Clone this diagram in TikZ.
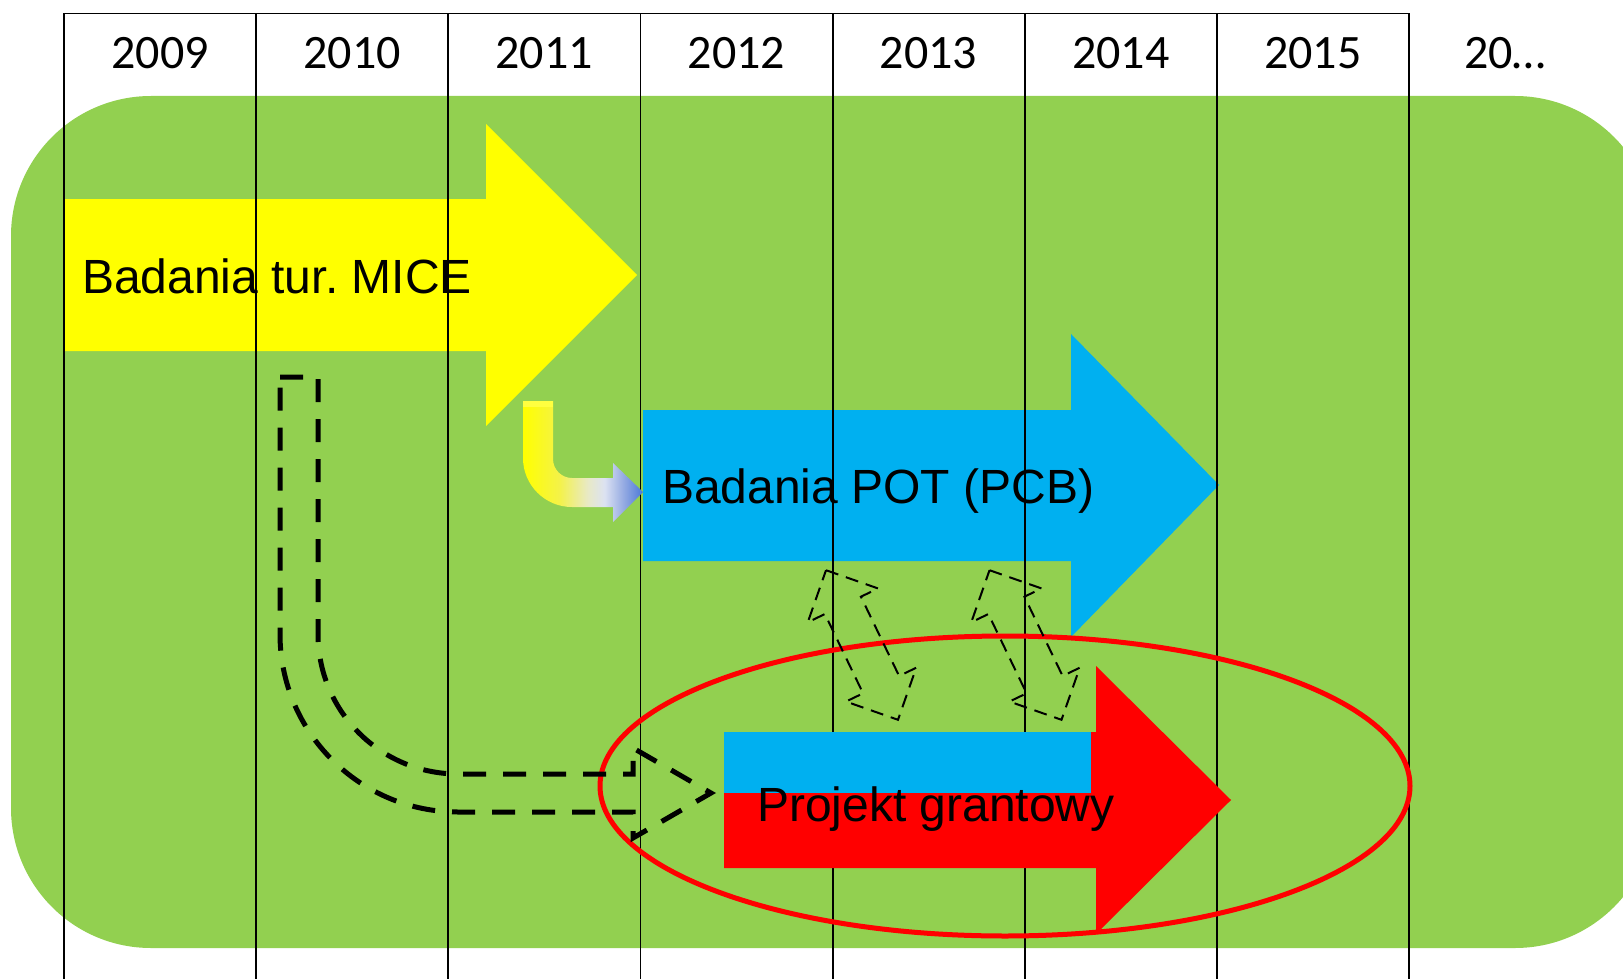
\documentclass[tikz,border=0pt]{standalone}
\usepackage{fontspec}
\setmainfont{Liberation Sans}
\newfontfamily\yearfont{Carlito}
\frenchspacing

\definecolor{tlgreen}{HTML}{92D050}
\definecolor{tlyellow}{HTML}{FFFF00}
\definecolor{tlblue}{HTML}{00B0F0}
\definecolor{tlred}{HTML}{FF0000}
\definecolor{bendA}{HTML}{F4F248}
\definecolor{bendB}{HTML}{E8E9C6}
\definecolor{bendC}{HTML}{DCE2F2}
\definecolor{bendD}{HTML}{94AAE2}
\definecolor{bendE}{HTML}{4A78D8}
\pgfdeclarehorizontalshading{bendgrad}{100bp}{color(0bp)=(tlyellow); color(25bp)=(tlyellow);
  color(40bp)=(bendA); color(52bp)=(bendB); color(59bp)=(bendC); color(67bp)=(bendD);
  color(75bp)=(bendE); color(100bp)=(bendE)}

\begin{document}
\begin{tikzpicture}[x=1pt, y=-1pt,
    gridline/.style={black, line width=1.8pt},
    yearlbl/.style={font=\yearfont\fontsize{48}{56}\selectfont, inner sep=0pt, anchor=base},
    barlbl/.style={font=\fontsize{48}{56}\selectfont, inner sep=0pt, anchor=base west},
    uturn/.style={black, line width=5pt, dash pattern=on 23pt off 17pt},
    dblarr/.style={black, line width=2pt, dash pattern=on 13pt off 8pt}]
    \useasboundingbox (0,0) rectangle (1623,979);
    \clip (0,0) rectangle (1623,979);
    % background
    \fill[tlgreen, rounded corners=140pt] (11,96) rectangle (1655,948);
    % bars
    \fill[tlyellow] (64,199) -- (486,199) -- (486,124) -- (637,275) -- (486,426) -- (486,351) -- (64,351) -- cycle;
    \fill[tlblue] (643,410) -- (1071,410) -- (1071,334) -- (1219,485) -- (1071,637) -- (1071,561) -- (643,561) -- cycle;
    % year grid
    \draw[gridline] (64,13.5) -- (1409,13.5);
    \foreach \i in {0,...,7}
        \draw[gridline] ({64+192.15*\i},13.5) -- ++(0,967);
    \foreach \yr [count=\i from 0] in {2009,2010,2011,2012,2013,2014,2015,20…}
        \node[yearlbl] (y\i) at ({160+192.15*\i},69) {\yr};
    % bent arrow
    \path[shading=bendgrad] (523,401) -- (553,401) -- (553,459) arc[start angle=180, end angle=270, radius=19pt]
        -- (613,478) -- (613,463) -- (643,492) -- (613,522) -- (613,507) -- (572,507)
        arc[start angle=270, end angle=180, radius=49pt] -- cycle;
    \fill[tlyellow!75!white] (523,401) rectangle (553,407);
    % grant bar
    \fill[tlred] (724,732) -- (1096,732) -- (1096,666) -- (1231,800) -- (1096,934) -- (1096,868) -- (724,868) -- cycle;
    \fill[tlblue] (724,732) rectangle (1091,793);
    \draw[tlred, line width=5pt] (1005,786) ellipse [x radius=405pt, y radius=150pt];
    % dashed arrows
    \draw[uturn] (280,377) -- (318,377) -- (318,634) arc[start angle=180, end angle=270, radius=140pt]
        -- (633,774) -- (633,748) -- (711,793) -- (633,838) -- (633,812) -- (458,812)
        arc[start angle=270, end angle=180, radius=178pt] -- cycle;
    \foreach \cx in {862,1025.5}
        \draw[dblarr, shift={(\cx,645)}, rotate=25.7] (0,-83) -- (39,-44) -- (20,-44) -- (20,44) -- (39,44)
            -- (0,83) -- (-39,44) -- (-20,44) -- (-20,-44) -- (-39,-44) -- cycle;
    % labels
    \node[barlbl] (mice) at (82,293) {Badania tur. MICE};
    \node[barlbl] (pot) at (662,503) {Badania POT (PCB)};
    \node[barlbl] (grant) at (757,821) {Projekt grantowy};
\end{tikzpicture}
\end{document}
